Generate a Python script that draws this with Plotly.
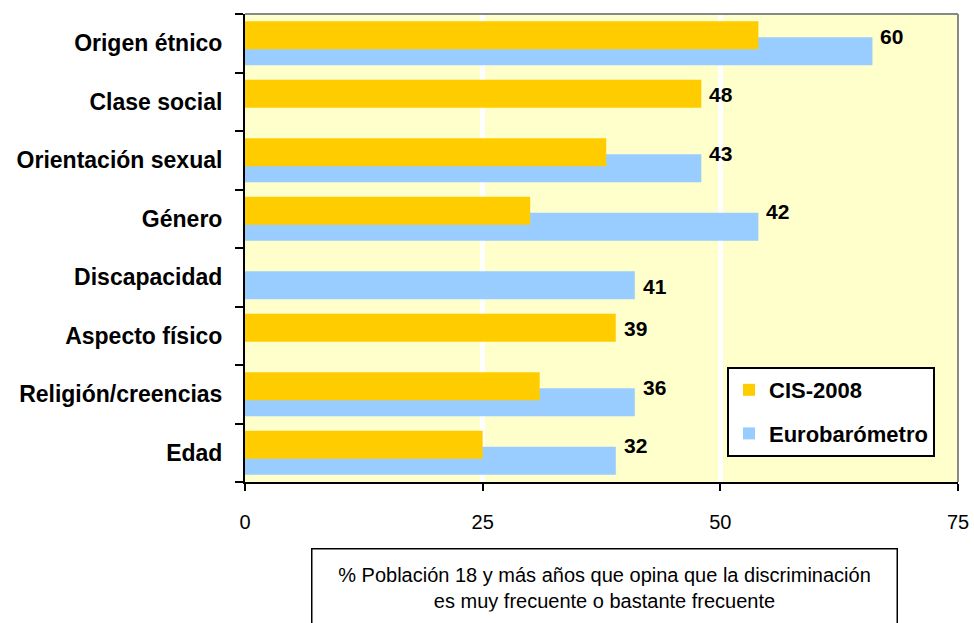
import plotly.graph_objects as go

# --- data (bottom to top) ---
categorias = ["Edad", "Religión/creencias", "Aspecto físico", "Discapacidad",
              "Género", "Orientación sexual", "Clase social", "Origen étnico"]
cis_2008 = [25, 31, 39, None, 30, 38, 48, 54]
eurobarometro = [39, 41, None, 41, 54, 48, None, 66]
etiquetas = [32, 36, 39, 41, 42, 43, 48, 60]

FONT = "Liberation Sans, Arial, sans-serif"
AMARILLO = "#FFCC00"
AZUL = "#99CCFF"

fig = go.Figure()

# blue first so the yellow bar overlaps it
fig.add_trace(go.Bar(
    y=categorias, x=eurobarometro, orientation="h", name="Eurobarómetro",
    marker=dict(color=AZUL, line_width=0), width=0.48, offset=-0.377,
    legendrank=2, legendgroup="b",
))
fig.add_trace(go.Bar(
    y=categorias, x=cis_2008, orientation="h", name="CIS-2008",
    marker=dict(color=AMARILLO, line_width=0), width=0.48, offset=-0.103,
    legendrank=1, legendgroup="a",
))

# value labels next to the longest bar of each row
for cat, c, e, lab in zip(categorias, cis_2008, eurobarometro, etiquetas):
    xmax = max(v for v in (c, e) if v is not None)
    fig.add_annotation(
        x=xmax, y=cat, text=f"<b>{lab}</b>", showarrow=False,
        xanchor="left", xshift=6, yshift=7 if c is not None else -9,
        font=dict(family=FONT, size=21, color="black"),
    )

# bottom caption box (bottom edge runs off the page, as in the original)
fig.add_annotation(
    xref="paper", yref="paper", x=0.504, y=-0.141, xanchor="center", yanchor="top",
    text="% Población 18 y más años que opina que la discriminación<br>"
         "es muy frecuente o bastante frecuente",
    showarrow=False, align="center", width=556,
    font=dict(family=FONT, size=20, color="black"),
    bordercolor="black", borderwidth=1.5, borderpad=14, bgcolor="white",
)

# grey top/right frame of plot area
fig.add_shape(type="line", xref="x domain", yref="y domain", x0=0, x1=1, y0=1, y1=1,
              line=dict(color="#888888", width=2))
fig.add_shape(type="line", xref="x domain", yref="y domain", x0=1, x1=1, y0=0, y1=1,
              line=dict(color="#888888", width=2))

fig.update_layout(
    width=974, height=623,
    margin=dict(l=245, r=16, t=14, b=141),
    barmode="overlay",
    plot_bgcolor="#FFFFCC",
    paper_bgcolor="white",
    font=dict(family=FONT, color="black"),
    showlegend=True,
    legend=dict(
        x=0.676, y=0.2457, xanchor="left", yanchor="top",
        bgcolor="white", bordercolor="black", borderwidth=2,
        font=dict(family=FONT, size=22, color="black", weight="bold"),
        tracegroupgap=12, itemwidth=30,
    ),
    xaxis=dict(
        range=[0, 75], tickvals=[0, 25, 50, 75],
        showgrid=True, gridcolor="white", gridwidth=5,
        zeroline=False, automargin=False,
        showline=True, linecolor="black", linewidth=2,
        ticks="outside", ticklen=7, tickwidth=2, tickcolor="black",
        tickfont=dict(family=FONT, size=20, color="black"),
        ticklabelstandoff=14,
    ),
    yaxis=dict(
        type="category", categoryorder="array", categoryarray=categorias,
        range=[-0.5, 7.5], automargin=False,
        showgrid=False, zeroline=False,
        showline=True, linecolor="black", linewidth=2,
        ticks="outside", tickson="boundaries", ticklen=8, tickwidth=2, tickcolor="black",
        tickfont=dict(family=FONT, size=23, color="black", weight="bold"),
        ticklabelstandoff=16,
    ),
)

# drop the default page margin so the figure fills the window exactly
fig.write_html(
    "out.html",
    config={"displayModeBar": False},
    post_script="document.body.style.margin='0';document.body.style.overflow='hidden';",
)
